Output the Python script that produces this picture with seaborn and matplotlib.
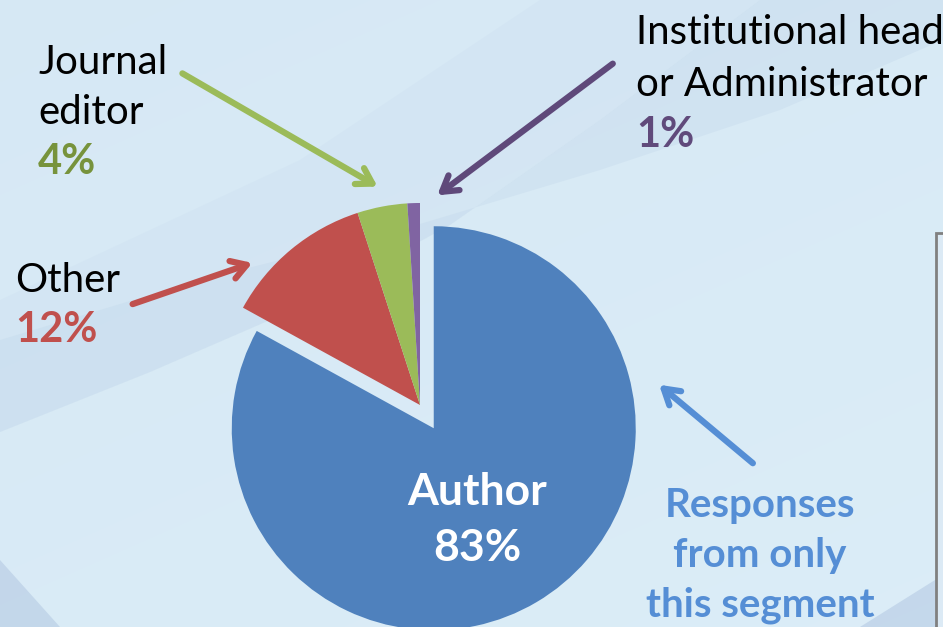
import numpy as np
import matplotlib
matplotlib.use("Agg")
import matplotlib.pyplot as plt
import seaborn as sns
from matplotlib.patches import Polygon, Rectangle

# ---- data ----
categories = ["Author", "Other", "Journal editor", "Institutional head or Administrator"]
shares = [83, 12, 4, 1]
pct_labels = ["83%", "12%", "4%", "1%"]
slice_colors = ["#4F81BD", "#C0504D", "#9BBB59", "#8064A2"]
text_colors = ["#FFFFFF", "#C0504D", "#77933C", "#604A7B"]
arrow_colors = ["#558ED5", "#C0504D", "#9BBB59", "#5F497A"]
note_lines = ["Responses", "from only", "this segment"]

sns.set_theme(style="white")
plt.rcParams["font.family"] = ["Lato", "DejaVu Sans"]

W, H = 943, 627
fig = plt.figure(figsize=(W / 100, H / 100), dpi=100)
ax = fig.add_axes([0, 0, 1, 1])

# background gradient
yy, xx = np.mgrid[0:H, 0:W]
t = (yy / H) * 0.6 + (xx / W) * 0.4
c0 = np.array([0.84, 0.91, 0.96])
c1 = np.array([0.86, 0.93, 0.97])
img = c0[None, None, :] * (1 - t[..., None]) + c1[None, None, :] * t[..., None]
ax.imshow(img, extent=(0, W, H, 0), zorder=0, aspect="auto")

# diagonal swoosh band
band = [(0, 432), (150, 372), (300, 307), (450, 225), (600, 120), (760, 0),
        (943, 0), (943, 40), (780, 110), (600, 170), (400, 230), (200, 280), (0, 340)]
ax.add_patch(Polygon(band, closed=True, facecolor="#B9CFE6", alpha=0.25,
                     edgecolor="none", zorder=1))
ax.add_patch(Polygon([(0, 432), (150, 372), (300, 307), (450, 225), (600, 120), (760, 0),
                      (540, 0), (300, 160), (0, 300)], closed=True,
                     facecolor="#C4D8EC", alpha=0.2, edgecolor="none", zorder=1))
ax.add_patch(Polygon([(0, 560), (60, 627), (0, 627)], closed=True,
                     facecolor="#B5CAE3", alpha=0.6, edgecolor="none", zorder=1))
ax.add_patch(Polygon([(860, 627), (943, 575), (943, 627)], closed=True,
                     facecolor="#B5CAE3", alpha=0.6, edgecolor="none", zorder=1))

# right-side box edge
ax.add_patch(Rectangle((936, 233), 40, 420, facecolor="#DCEAF5", edgecolor="#808080",
                       linewidth=2, zorder=2))

# pie (explode is in data units, since center/radius are in pixels)
wedges, _ = ax.pie(shares, colors=slice_colors, startangle=-90, counterclock=True,
                   explode=[27, 0, 0, 0], center=(420, 405), radius=202,
                   wedgeprops=dict(linewidth=0), frame=True)
for w in wedges:
    w.set_zorder(3)

ax.set_xlim(0, W)
ax.set_ylim(H, 0)
ax.set_aspect("auto")
ax.axis("off")

fs = 29


def put(x, y, s, color="black", bold=False, ha="left", size=fs):
    ax.text(x, y, s, fontsize=size, color=color, fontweight="bold" if bold else "normal",
            ha=ha, va="center", zorder=5)


put(38, 62, "Journal")
put(38, 112, "editor")
put(38, 162, pct_labels[2], text_colors[2], True, size=30)
put(636, 32, "Institutional head")
put(636, 84, "or Administrator")
put(636, 135, pct_labels[3], text_colors[3], True, size=30)
put(15, 280, categories[1])
put(15, 330, pct_labels[1], text_colors[1], True, size=30)
put(477, 492, categories[0], text_colors[0], True, "center", size=32)
put(477, 548, pct_labels[0], text_colors[0], True, "center", size=32)
for i, line in enumerate(note_lines):
    put(760, 505 + 50 * i, line, arrow_colors[0], True, "center")

# arrows
arrows = [((755, 465), (657, 383), arrow_colors[0]),
          ((130, 305), (255, 262), arrow_colors[1]),
          ((180, 72), (380, 188), arrow_colors[2]),
          ((615, 62), (435, 197), arrow_colors[3])]
for (x0, y0), (x1, y1), col in arrows:
    ax.annotate("", xy=(x1, y1), xytext=(x0, y0),
                arrowprops=dict(arrowstyle="->,head_length=0.9,head_width=0.55",
                                color=col, lw=4.5, capstyle="round"),
                zorder=6)

fig.savefig("out.png", dpi=100)
